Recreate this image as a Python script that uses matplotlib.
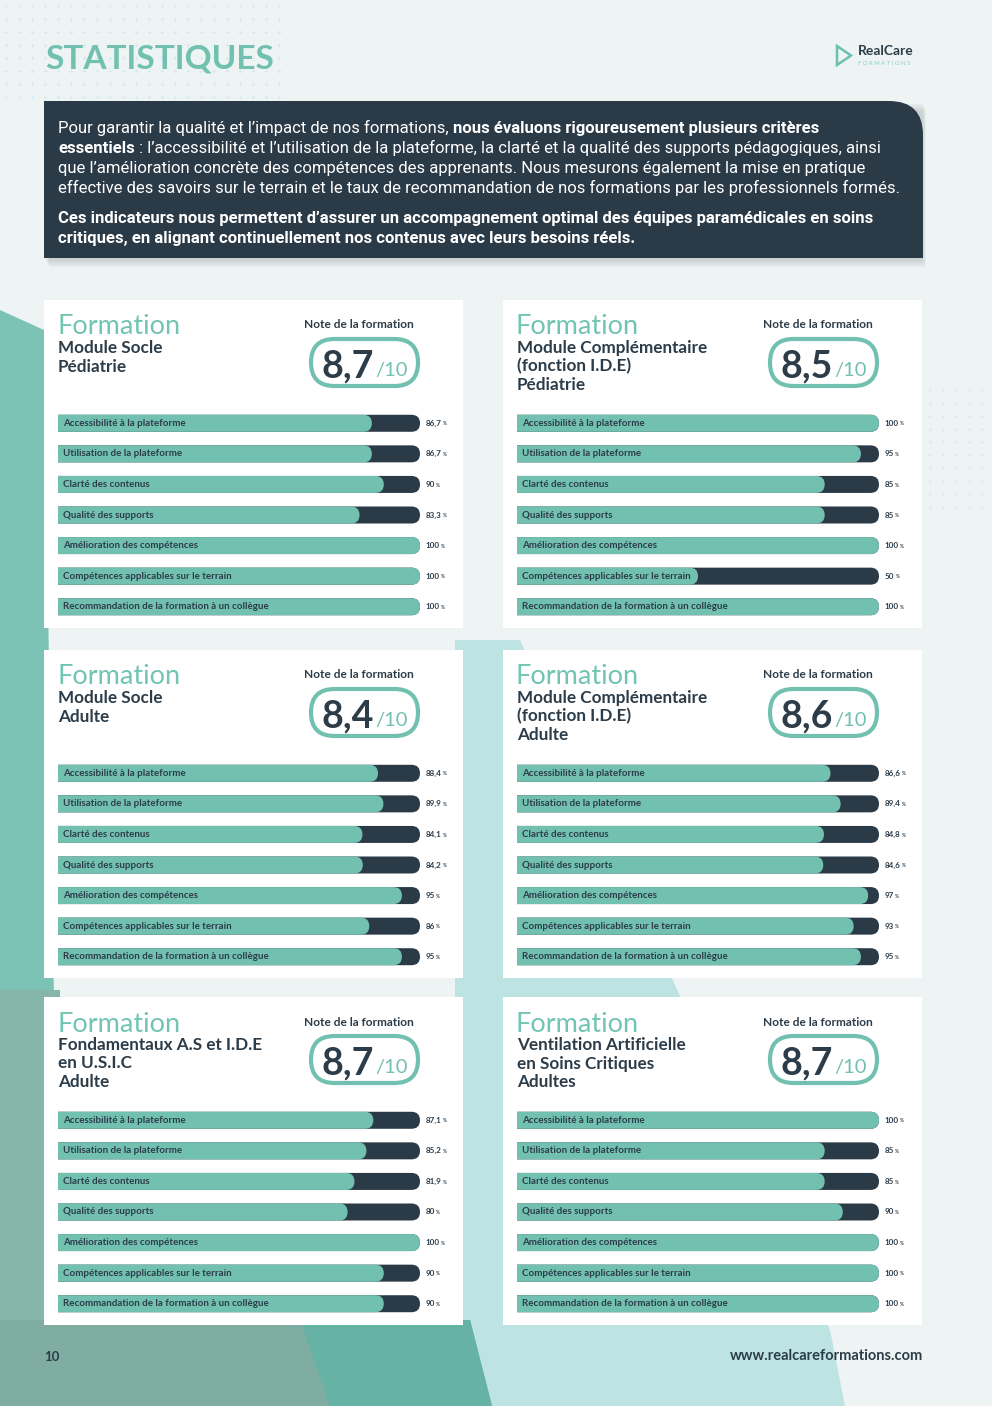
import matplotlib
matplotlib.use("Agg")
import matplotlib.pyplot as plt
import numpy as np
from matplotlib.patches import FancyBboxPatch, Rectangle, Polygon, PathPatch
from matplotlib.path import Path

W, H = 992, 1406
TEAL = "#72c1b0"
TEAL_TXT = "#72c4b3"
DARK = "#2c3c49"
BG = "#edf4f3"
CARD_FONT = "Lato"
BODY_FONT = "Roboto"

# ---- data -----------------------------------------------------------------
criteria = [
    "Accessibilité à la plateforme",
    "Utilisation de la plateforme",
    "Clarté des contenus",
    "Qualité des supports",
    "Amélioration des compétences",
    "Compétences applicables sur le terrain",
    "Recommandation de la formation à un collègue",
]

card_titles = [
    ["Module Socle", "Pédiatrie"],
    ["Module Complémentaire", "(fonction I.D.E)", "Pédiatrie"],
    ["Module Socle", "Adulte"],
    ["Module Complémentaire", "(fonction I.D.E)", "Adulte"],
    ["Fondamentaux A.S et I.D.E", "en U.S.I.C", "Adulte"],
    ["Ventilation Artificielle", "en Soins Critiques", "Adultes"],
]
card_notes = ["8,7", "8,5", "8,4", "8,6", "8,7", "8,7"]

socle_pediatrie = [86.7, 86.7, 90, 83.3, 100, 100, 100]
complementaire_pediatrie = [100, 95, 85, 85, 100, 50, 100]
socle_adulte = [88.4, 89.9, 84.1, 84.2, 95, 86, 95]
complementaire_adulte = [86.6, 89.4, 84.8, 84.6, 97, 93, 95]
fondamentaux_usic = [87.1, 85.2, 81.9, 80, 100, 90, 90]
ventilation_adultes = [100, 85, 85, 90, 100, 100, 100]
card_values = [socle_pediatrie, complementaire_pediatrie, socle_adulte,
               complementaire_adulte, fondamentaux_usic, ventilation_adultes]

intro_lines = [
    [("Pour garantir la qualité et l’impact de nos formations,", "normal"),
     ("nous évaluons rigoureusement plusieurs critères", "bold")],
    [("essentiels", "bold"),
     (": l’accessibilité et l’utilisation de la plateforme, la clarté et la qualité des supports pédagogiques, ainsi", "normal")],
    [("que l’amélioration concrète des compétences des apprenants. Nous mesurons également la mise en pratique", "normal")],
    [("effective des savoirs sur le terrain et le taux de recommandation de nos formations par les professionnels formés.", "normal")],
    [("Ces indicateurs nous permettent d’assurer un accompagnement optimal des équipes paramédicales en soins", "bold")],
    [("critiques, en alignant continuellement nos contenus avec leurs besoins réels.", "bold")],
]


def fmt(v):
    s = f"{v:.1f}".rstrip("0").rstrip(".")
    return s.replace(".", ",")


def fig_box(x, y, w, h):
    return [x / W, 1 - (y + h) / H, w / W, h / H]


fig = plt.figure(figsize=(W / 100, H / 100), dpi=100)
fig.patch.set_facecolor(BG)
renderer = fig.canvas.get_renderer()

bg = fig.add_axes([0, 0, 1, 1])
bg.set_xlim(0, W)
bg.set_ylim(H, 0)
bg.axis("off")

# background decoration
gx, gy = np.meshgrid(np.arange(6, 290, 13), np.arange(6, 100, 13))
bg.scatter(gx.ravel(), gy.ravel(), marker="+", s=6, lw=0.6, color="#d3e8ec", zorder=0)
gx, gy = np.meshgrid(np.arange(930, 992, 13), np.arange(390, 520, 13))
bg.scatter(gx.ravel(), gy.ravel(), marker="+", s=6, lw=0.6, color="#d8ebee", zorder=0)
bg.add_patch(Polygon([(0, 310), (44, 330), (60, 1406), (0, 1406)], fc="#7cc3b6", ec="none", zorder=0))
bg.add_patch(Polygon([(0, 990), (60, 990), (60, 1406), (0, 1406)], fc="#86b5a9", ec="none", zorder=0))
bg.add_patch(Polygon([(455, 640), (520, 640), (830, 1330), (845, 1406), (455, 1406)],
                     fc="#bde3e3", ec="none", zorder=0))
bg.add_patch(Polygon([(0, 1320), (470, 1320), (492, 1406), (0, 1406)], fc="#80ad a1".replace(" ", ""), ec="none", zorder=0))
bg.add_patch(Polygon([(300, 1320), (470, 1320), (492, 1406), (330, 1406)], fc="#66b2a5", ec="none", zorder=0))

# header
bg.text(45, 59, "STATISTIQUES", color=TEAL, fontsize=24, fontweight="bold",
        family=CARD_FONT, va="center", ha="left")
bg.add_patch(Polygon([(837, 46), (851, 55.5), (837, 65)], closed=True, fill=False,
                     ec="#6cc0b0", lw=1.8))
bg.text(858, 51, "RealCare", color=DARK, fontsize=10, fontweight="bold",
        family=CARD_FONT, va="center")
bg.text(858, 63.5, "F O R M A T I O N S", color="#8ccfc2", fontsize=4.3,
        family=CARD_FONT, va="center")

# dark intro box with rounded top-right corner
bx0, by0, bx1, by1, r = 44, 101, 923, 258, 34
for k in range(4):
    bg.add_patch(Rectangle((bx0 + 2 + k, by0 + 3 + k * 2), bx1 - bx0 - 2, by1 - by0,
                           fc="black", alpha=0.035, ec="none", zorder=1))
verts = [(bx0, by0), (bx1 - r, by0), (bx1, by0), (bx1, by0 + r), (bx1, by1), (bx0, by1), (bx0, by0)]
codes = [Path.MOVETO, Path.LINETO, Path.CURVE3, Path.CURVE3, Path.LINETO, Path.LINETO, Path.CLOSEPOLY]
bg.add_patch(PathPatch(Path(verts, codes), fc="#2b3a47", ec="none", zorder=2))


def text_width(t):
    return t.get_window_extent(renderer).width


BODY_SIZE = 12.0
space_probe = bg.text(0, 0, "a a", family=BODY_FONT, fontsize=BODY_SIZE)
space_probe2 = bg.text(0, 0, "aa", family=BODY_FONT, fontsize=BODY_SIZE)
SPACE = text_width(space_probe) - text_width(space_probe2)
space_probe.remove()
space_probe2.remove()

line_y = [133, 153, 173, 193, 223, 243]
for runs, y in zip(intro_lines, line_y):
    x = 58
    for j, (txt, weight) in enumerate(runs):
        if j > 0:
            x += SPACE
        t = bg.text(x, y, txt, color="white", fontsize=BODY_SIZE, fontweight=weight,
                    family=BODY_FONT, va="baseline", zorder=3)
        x += text_width(t)

# cards
card_lefts = [44, 503]
card_tops = [300, 650, 997]
CW, CH = 419, 328
XPP = 100 / 362      # data units per pixel (x)
YPP = 7 / 214        # data units per pixel (y)


def rounded_bars(ax, bars, color, r_px=8.5):
    for rect in bars:
        x, y = rect.get_x(), rect.get_y()
        w, h = rect.get_width(), rect.get_height()
        rect.set_visible(False)
        ax.add_patch(FancyBboxPatch(
            (x - 4, y), w + 4, h,
            boxstyle=f"round,pad=0,rounding_size={r_px * XPP}",
            mutation_aspect=YPP / XPP, fc=color, ec="none", clip_on=True))


for idx, (lines, note, values) in enumerate(zip(card_titles, card_notes, card_values)):
    cx = card_lefts[idx % 2]
    cy = card_tops[idx // 2]
    bg.add_patch(Rectangle((cx, cy), CW, CH, fc="white", ec="none", zorder=1))

    bg.text(cx + 13, cy + 27, "Formation", color=TEAL_TXT, fontsize=19.5,
            fontweight="normal", family=CARD_FONT, va="center", zorder=3)
    for k, line in enumerate(lines):
        bg.text(cx + 14, cy + 48 + k * 18.5, line, color=DARK, fontsize=12.3,
                fontweight="bold", family=CARD_FONT, va="center", zorder=3)

    bg.text(cx + 315, cy + 25, "Note de la formation", color=DARK, fontsize=8.6,
            fontweight="bold", family=CARD_FONT, ha="center", va="center", zorder=3)
    bg.add_patch(FancyBboxPatch((cx + 267, cy + 39), 107, 47,
                                boxstyle="round,pad=0,rounding_size=23.5",
                                fc="white", ec=TEAL, lw=3, zorder=3))
    t1 = bg.text(0, cy + 77, note, color=DARK, fontsize=27, fontweight="bold",
                 family=CARD_FONT, va="baseline", zorder=4)
    t2 = bg.text(0, cy + 76, "/10", color=TEAL, fontsize=14.5,
                 family=CARD_FONT, va="baseline", zorder=4)
    w1, w2 = text_width(t1), text_width(t2)
    start = cx + 320.5 - (w1 + w2 + 1) / 2
    t1.set_x(start)
    t2.set_x(start + w1 + 1)

    ax = fig.add_axes(fig_box(cx + 14, cy + 108, 362, 214))
    ax.set_xlim(0, 100)
    ax.set_ylim(6.5, -0.5)
    ax.axis("off")
    pos = np.arange(len(criteria))
    bh = 17 * YPP
    tracks = ax.barh(pos, [100] * len(criteria), height=bh)
    rounded_bars(ax, tracks, "#2b3a47")
    fills = ax.barh(pos, values, height=bh)
    rounded_bars(ax, fills, TEAL)
    for i, (lab, v) in enumerate(zip(criteria, values)):
        ax.text(1.4, i, lab, color=DARK, fontsize=7, family=CARD_FONT,
                fontweight="bold", va="center", ha="left")
        tv = ax.text(101.6, i, fmt(v), color=DARK, fontsize=5.8, family=CARD_FONT,
                     fontweight="bold", va="center", ha="left", clip_on=False)
        ax.annotate("%", xy=(1, 0.05), xycoords=tv, xytext=(0.8, 0),
                    textcoords="offset points", fontsize=3.4, fontweight="bold",
                    color=DARK, family=CARD_FONT, va="bottom", ha="left")

# footer
bg.text(44, 1357, "10", color=DARK, fontsize=9.5, fontweight="bold",
        family=CARD_FONT, va="center")
bg.text(923, 1356, "www.realcareformations.com", color=DARK, fontsize=10.5,
        fontweight="bold", family=CARD_FONT, va="center", ha="right")

fig.savefig("out.png", dpi=100, facecolor=fig.get_facecolor())
